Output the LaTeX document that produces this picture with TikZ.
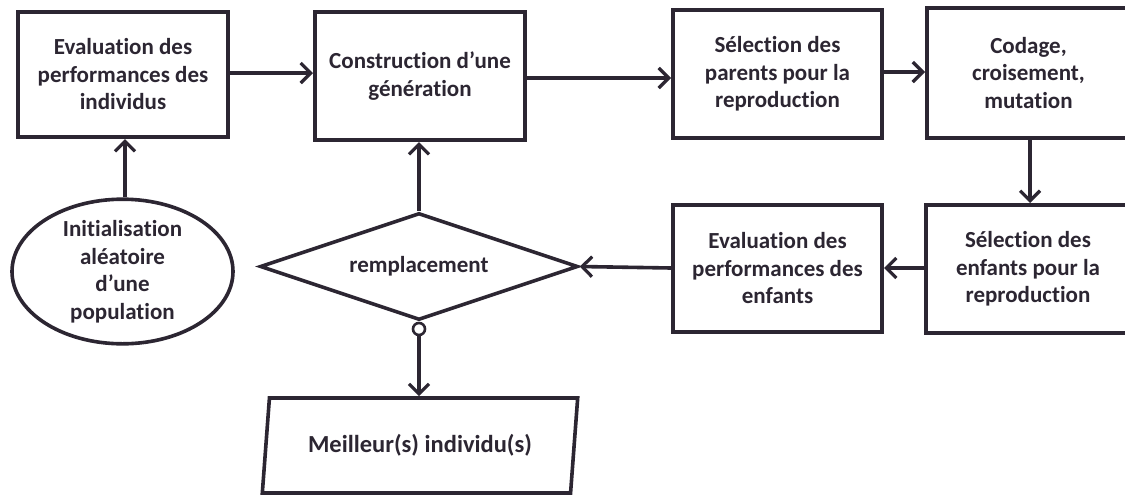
\documentclass[tikz,border=0pt]{standalone}
\usepackage{fontspec}
\setmainfont{Carlito}[Ligatures=NoCommon]
\usetikzlibrary{shapes.geometric,arrows.meta}
\definecolor{ink}{RGB}{44,38,50}
\begin{document}
\begin{tikzpicture}[x=1pt,y=-1pt,
  every node/.style={font=\fontsize{23}{27.5}\selectfont\bfseries, text=ink, align=center},
  stepbox/.style={draw=ink, line width=4pt, fill=white, inner sep=0pt},
  outline/.style={draw=ink, line width=3.6pt, inner sep=0pt},
  link/.style={draw=ink, line width=3.6pt, -{Straight Barb[length=10pt,width=20pt,line width=3.2pt]}},
  plain/.style={draw=ink, line width=3.6pt}
]
\useasboundingbox (0,0) rectangle (1125,496);
\fill[white] (0,0) rectangle (1125,496);

% process boxes
\node[stepbox, minimum width=210pt, minimum height=125pt] (eval) at (123,74.5)
  {Evaluation des\\performances des\\individus};
\node[stepbox, minimum width=210pt, minimum height=128pt] (gen) at (420,76)
  {Construction d’une\\génération};
\node[stepbox, minimum width=209pt, minimum height=128pt] (selp) at (777.5,74)
  {Sélection des\\parents pour la\\reproduction};
\node[stepbox, minimum width=203pt, minimum height=130pt] (cod) at (1028.5,73)
  {Codage,\\croisement,\\mutation};
\node[stepbox, minimum width=205pt, minimum height=128pt] (sele) at (1028,269)
  {Sélection des\\enfants pour la\\reproduction};
\node[stepbox, minimum width=209pt, minimum height=127pt] (evale) at (777.5,268.5)
  {Evaluation des\\performances des\\enfants};

% start, decision and output shapes
\node[outline, ellipse, minimum width=221pt, minimum height=143pt] (init) at (122.5,271.5)
  {Initialisation\\aléatoire\\d’une\\population};
\node[outline, diamond, aspect=2.97, minimum width=318pt, minimum height=107pt] (rep) at (419,266.5)
  {remplacement};
\node[draw=ink, line width=2.6pt, fill=white, circle, inner sep=0pt, minimum size=12pt] (dot) at (419,329) {};
\node[outline, trapezium, trapezium left angle=76.4, trapezium right angle=103.6,
  trapezium stretches=true, minimum width=316pt, minimum height=95pt,
  font=\fontsize{24.5}{27}\selectfont\bfseries] (best) at (420,445.5)
  {Meilleur(s) individu(s)};

% connectors
\draw[link] (eval.east |- 0,73) -- (gen.west |- 0,73);
\draw[link] (gen.east |- 0,78) -- (selp.west |- 0,78);
\draw[link] (selp.east |- 0,72) -- (cod.west |- 0,72);
\draw[link] (cod.south -| 1030,0) -- (sele.north -| 1030,0);
\draw[link] (sele.west |- 0,268) -- (evale.east |- 0,268);
\draw[link] (evale.west |- 0,268) -- (rep.east);
\draw[link] (rep.north) -- (rep.north |- gen.south);
\draw[link] (init.north -| 125,0) -- (eval.south -| 125,0);
\draw[plain] (rep.south) -- (dot.north);
\draw[link] (dot.south) -- (best.north -| dot.south);
\end{tikzpicture}
\end{document}
